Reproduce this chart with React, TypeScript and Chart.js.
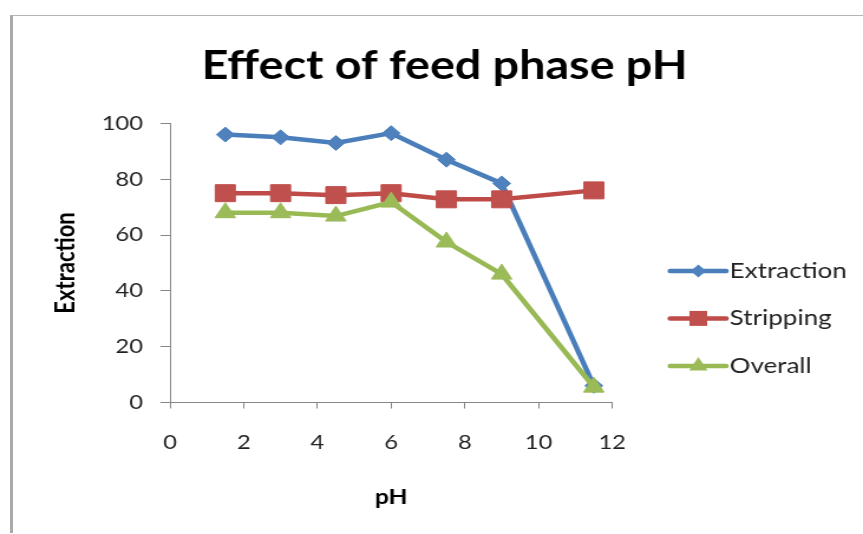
import React, { useEffect, useRef } from "react";
import { Chart, registerables } from "chart.js";

Chart.register(...registerables);

// ---- data ----
const pH = [1.5, 3, 4.5, 6, 7.5, 9, 11.5];
const extraction = [96, 95, 93, 96.5, 87, 78.5, 6];
const stripping = [75, 75, 74.3, 75, 72.8, 72.8, 76];
const overall = [68, 68, 66.8, 71.8, 57.5, 46, 5.5];
const seriesNames = ["Extraction", "Stripping", "Overall"];
const chartTitle = "Effect of feed phase pH";
const xTitle = "pH";
const yTitle = "Extraction";
const xMin = 0, xMax = 12, xStep = 2;
const yMin = 0, yMax = 100, yStep = 20;

const FONT = "Lato, 'Open Sans', sans-serif";
const CW = 720; // internal canvas width (stretched to 850 by CSS, like the reference)
const CH = 517;

type Sty = { line: string; fill: string; point: string; r: number; lr: number };

const STYLES: Sty[] = [
  { line: "#4A7EBB", fill: "#4F81BD", point: "rectRot", r: 7.5, lr: 6.5 },
  { line: "#BE4B48", fill: "#C0504D", point: "rect", r: 12, lr: 7.5 },
  { line: "#98B954", fill: "#9BBB59", point: "triangle", r: 10, lr: 9 },
];

function drawMarker(g: CanvasRenderingContext2D, st: Sty, cx: number, cy: number) {
  g.fillStyle = st.fill;
  g.beginPath();
  const r = st.lr;
  if (st.point === "rectRot") {
    g.moveTo(cx, cy - r);
    g.lineTo(cx + r, cy);
    g.lineTo(cx, cy + r);
    g.lineTo(cx - r, cy);
  } else if (st.point === "rect") {
    g.rect(cx - r, cy - r, 2 * r, 2 * r);
  } else {
    g.moveTo(cx, cy - r);
    g.lineTo(cx + r * 0.866, cy + r * 0.5);
    g.lineTo(cx - r * 0.866, cy + r * 0.5);
  }
  g.closePath();
  g.fill();
}

// Excel-style legend (line + marker + label) drawn to the right of the plot area
const sideLegend = {
  id: "sideLegend",
  afterDraw(chart: any) {
    const g: CanvasRenderingContext2D = chart.ctx;
    const a = chart.chartArea;
    g.save();
    chart.data.datasets.forEach((ds: any, i: number) => {
      const st = STYLES[i];
      const cy = a.top + 147.5 + i * 47.5;
      g.strokeStyle = st.line;
      g.lineWidth = 4.5;
      g.lineCap = "round";
      g.beginPath();
      g.moveTo(a.right + 49, cy);
      g.lineTo(a.right + 96.5, cy);
      g.stroke();
      drawMarker(g, st, a.right + 72.9, cy);
      g.fillStyle = "#222";
      g.font = `22px ${FONT}`;
      g.textAlign = "left";
      g.textBaseline = "middle";
      g.fillText(ds.label, a.right + 99.5, cy);
    });
    g.restore();
  },
};

export default function App() {
  const ref = useRef<HTMLCanvasElement>(null);

  useEffect(() => {
    if (!ref.current) return;
    const series = [extraction, stripping, overall];

    const chart = new Chart(ref.current, {
      type: "line",
      data: {
        datasets: series.map((vals, i) => ({
          label: seriesNames[i],
          data: vals.map((v, j) => ({ x: pH[j], y: v })),
          borderColor: STYLES[i].line,
          backgroundColor: STYLES[i].fill,
          borderWidth: 4.5,
          pointStyle: STYLES[i].point as any,
          pointRadius: STYLES[i].r,
          pointBackgroundColor: STYLES[i].fill,
          pointBorderColor: STYLES[i].fill,
          pointBorderWidth: 1,
          tension: 0,
          clip: false as any,
          order: 3 - i,
          xAxisID: "x",
          yAxisID: "y",
        })),
      },
      options: {
        animation: false,
        responsive: false,
        devicePixelRatio: 1,
        layout: { padding: { left: 17, right: 6, top: 0, bottom: 0 } },
        plugins: {
          title: {
            display: true,
            text: chartTitle,
            color: "#000",
            font: { family: FONT, size: 39.5, weight: "bold" },
            padding: { top: 27, bottom: 33 },
          },
          legend: { display: false },
          tooltip: { enabled: false },
        },
        scales: {
          x: {
            type: "linear",
            min: xMin,
            max: xMax,
            ticks: {
              stepSize: xStep,
              color: "#222",
              padding: 22.5,
              font: { family: FONT, size: 20 },
            },
            grid: { display: true, drawOnChartArea: false, drawTicks: true, tickLength: 6, color: "#868686" },
            border: { display: true, color: "#868686", width: 1 },
            title: {
              display: true,
              text: xTitle,
              color: "#000",
              font: { family: FONT, size: 21, weight: "bold" },
              padding: { top: 0, bottom: 23.4 },
            },
            afterFit: (s: any) => {
              s.height = 130.5;
            },
          },
          y: {
            min: yMin,
            max: yMax,
            ticks: {
              stepSize: yStep,
              color: "#222",
              padding: 15,
              font: { family: FONT, size: 20 },
            },
            grid: { display: true, drawOnChartArea: false, drawTicks: true, tickLength: 8, color: "#868686" },
            border: { display: true, color: "#868686", width: 1 },
            title: {
              display: true,
              text: yTitle,
              color: "#000",
              font: { family: FONT, size: 22, weight: "bold" },
              padding: { top: 14.7, bottom: 0 },
            },
            afterFit: (s: any) => {
              s.width = 116;
            },
          },
          // empty right-hand axis that only reserves room for the legend
          legendSpace: {
            type: "linear",
            axis: "y",
            position: "right",
            min: 0,
            max: 1,
            ticks: { display: false },
            grid: { display: false },
            border: { display: false },
            title: { display: false },
            afterFit: (s: any) => {
              s.width = 206.4;
            },
          },
        },
      } as any,
      plugins: [sideLegend],
    });
    return () => chart.destroy();
  }, []);

  return (
    <div
      style={{
        position: "absolute",
        left: 10,
        top: 15,
        width: 850,
        height: CH,
        borderLeft: "3px solid #a9a9a9",
        borderTop: "1px solid #b4b4b4",
        background: "#fff",
        overflow: "hidden",
      }}
    >
      <canvas
        ref={ref}
        width={CW}
        height={CH}
        style={{ width: "850px", height: `${CH}px`, display: "block" }}
      />
    </div>
  );
}
